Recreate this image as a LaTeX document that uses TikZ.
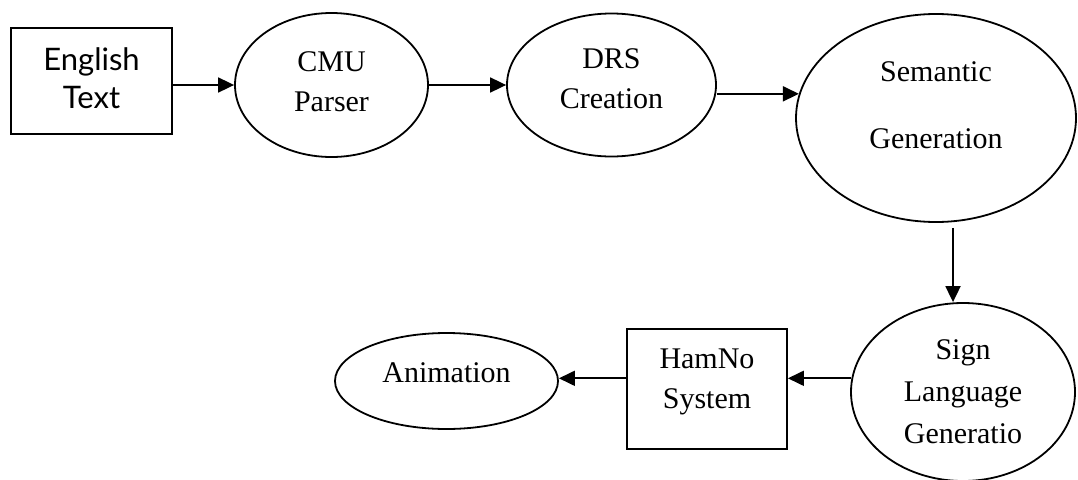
\documentclass[tikz,border=0pt]{standalone}
\usepackage{fontspec}
\setmainfont{Liberation Serif}
\newfontfamily\sansfont{Lato}
\usetikzlibrary{shapes.geometric, arrows.meta}
\tikzset{
	block/.style = {draw, line width=1.8pt, inner sep=0pt},
	oval/.style = {ellipse, draw, line width=1.8pt, inner sep=0pt},
	txt/.style = {align=center, inner sep=0pt, font=\fontsize{30}{40}\selectfont},
	flow/.style = {-{Triangle[length=16pt, width=15pt]}, line width=1.8pt}
}

\begin{document}
\begin{tikzpicture}[x=1pt, y=-1pt]
	\useasboundingbox (0,0) rectangle (1078,479);
	\node[block, minimum width=161pt, minimum height=106pt] (english) at (91.5,81) {};
	\node[oval, minimum width=193pt, minimum height=144pt] (cmu) at (331.5,85) {};
	\node[oval, minimum width=209pt, minimum height=143pt] (drs) at (611.5,85) {};
	\node[oval, minimum width=280pt, minimum height=208pt] (semantic) at (936,118) {};
	\node[oval, minimum width=224pt, minimum height=178pt] (sign) at (963,392) {};
	\node[block, minimum width=160pt, minimum height=120pt] (hamno) at (707,389) {};
	\node[oval, minimum width=223pt, minimum height=96pt] (anim) at (446.5,381) {};
	\node[txt, font=\sansfont\fontsize{31}{38}\selectfont] (english-text) at ([yshift=3pt]english) {English\\Text};
	\node[txt] (cmu-text) at ([yshift=3pt]cmu) {CMU\\Parser};
	\node[txt] (drs-text) at ([yshift=6pt]drs) {DRS\\Creation};
	\node[txt] (semantic-text) at ([yshift=13pt]semantic) {Semantic\\[27pt]Generation};
	\node[txt, font=\fontsize{30}{42}\selectfont] (sign-text) at (sign) {Sign\\Language\\Generatio};
	\node[txt] (hamno-text) at ([yshift=7pt]hamno) {HamNo\\System};
	\node[txt] (anim-text) at ([yshift=8pt]anim) {Animation};
	\draw[flow] (english.east |- cmu.west) -- (cmu.west);
	\draw[flow] (cmu.east) -- (cmu.east -| drs.west);
	\draw[flow] (drs.east |- semantic.170) -- (semantic.170);
	\draw[flow] ([xshift=17pt, yshift=-5pt]semantic.south) -- ([xshift=17pt]semantic.south |- sign.north);
	\draw[flow] (sign.173) -- (sign.173 -| hamno.east);
	\draw[flow] (hamno.west |- sign.173) -- (anim.east |- sign.173);
\end{tikzpicture}
\end{document}
